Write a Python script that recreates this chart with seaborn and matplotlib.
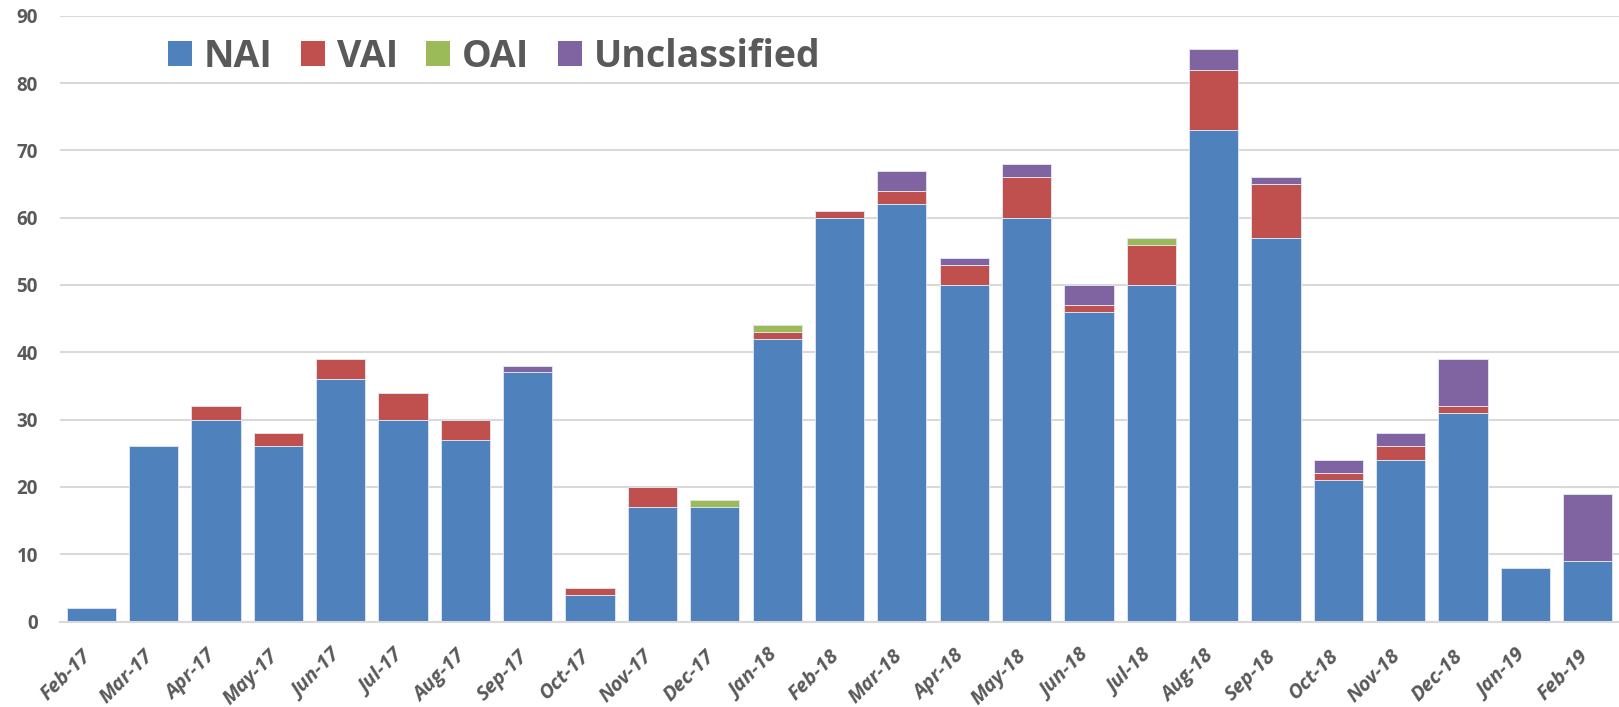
import numpy as np
import matplotlib
matplotlib.use('Agg')
import matplotlib.pyplot as plt
from matplotlib.patches import Patch
from matplotlib.ticker import FixedLocator
from matplotlib.transforms import ScaledTranslation
import seaborn as sns

# data
months = ['Feb-17', 'Mar-17', 'Apr-17', 'May-17', 'Jun-17', 'Jul-17', 'Aug-17',
          'Sep-17', 'Oct-17', 'Nov-17', 'Dec-17', 'Jan-18', 'Feb-18', 'Mar-18',
          'Apr-18', 'May-18', 'Jun-18', 'Jul-18', 'Aug-18', 'Sep-18', 'Oct-18',
          'Nov-18', 'Dec-18', 'Jan-19', 'Feb-19']
nai = [2, 26, 30, 26, 36, 30, 27, 37, 4, 17, 17, 42, 60, 62, 50, 60, 46, 50, 73, 57, 21, 24, 31, 8, 9]
vai = [0, 0, 2, 2, 3, 4, 3, 0, 1, 3, 0, 1, 1, 2, 3, 6, 1, 6, 9, 8, 1, 2, 1, 0, 0]
oai = [0, 0, 0, 0, 0, 0, 0, 0, 0, 0, 1, 1, 0, 0, 0, 0, 0, 1, 0, 0, 0, 0, 0, 0, 0]
unclassified = [0, 0, 0, 0, 0, 0, 0, 1, 0, 0, 0, 0, 0, 3, 1, 2, 3, 0, 3, 1, 2, 2, 7, 0, 10]

series_names = ['NAI', 'VAI', 'OAI', 'Unclassified']
colors = ['#4F81BD', '#C0504D', '#9BBB59', '#8064A2']
text_color = '#595959'
grid_color = '#D9D9D9'

sns.set_theme(style='white')
plt.rcParams['font.family'] = ['Open Sans', 'DejaVu Sans']

fig = plt.figure(figsize=(16.19, 7.07), dpi=100)
ax = fig.add_axes([60 / 1619, 1 - 621.5 / 707, 1 - 60 / 1619, (621.5 - 15.7) / 707])

# stacked bars: draw cumulative totals from the top down
stack = np.array([nai, vai, oai, unclassified])
cum = np.cumsum(stack, axis=0)
for i in range(3, -1, -1):
    sns.barplot(x=months, y=cum[i], color=colors[i], saturation=1, width=0.79,
                edgecolor='#DCE3EE', linewidth=0.7, ax=ax)

ax.set_ylim(0, 90)
ax.set_xlim(-0.5, len(months) - 0.5)
ax.set_yticks(range(0, 91, 10))
ax.yaxis.grid(True, color=grid_color, linewidth=1.5)
ax.set_axisbelow(True)
ax.set_xlabel('')
ax.set_ylabel('')

for s in ['left', 'top', 'right']:
    ax.spines[s].set_visible(False)
ax.spines['bottom'].set_color(grid_color)
ax.spines['bottom'].set_linewidth(1.5)

ax.tick_params(axis='y', length=0, pad=16, labelsize=13.5, labelcolor=text_color)
ax.tick_params(axis='x', which='major', length=0, pad=12, labelsize=14.5, labelcolor=text_color)
ax.xaxis.set_minor_locator(FixedLocator(np.arange(-0.5, len(months), 1)))
ax.tick_params(axis='x', which='minor', length=6, width=1.5, color=grid_color, direction='out')

for lbl in ax.get_yticklabels():
    lbl.set_fontweight('bold')
# shift rotated labels so their upper end sits under the bar centre
offset = ScaledTranslation(-10 / 100, -8 / 100, fig.dpi_scale_trans)
for lbl in ax.get_xticklabels():
    lbl.set_fontweight('bold')
    lbl.set_fontstyle('italic')
    lbl.set_rotation(45)
    lbl.set_ha('right')
    lbl.set_rotation_mode('anchor')
    lbl.set_transform(lbl.get_transform() + offset)

handles = [Patch(facecolor=c, edgecolor='none') for c in colors]
leg = fig.legend(handles, series_names, loc='center left', ncol=4,
                 bbox_to_anchor=(168 / 1619, 1 - 57 / 707), frameon=False,
                 borderpad=0, borderaxespad=0, handlelength=0.64, handleheight=0.64,
                 handletextpad=0.32, columnspacing=0.75,
                 prop={'size': 27, 'weight': 'bold'})
for t in leg.get_texts():
    t.set_color(text_color)

plt.savefig('out.png', dpi=100)
